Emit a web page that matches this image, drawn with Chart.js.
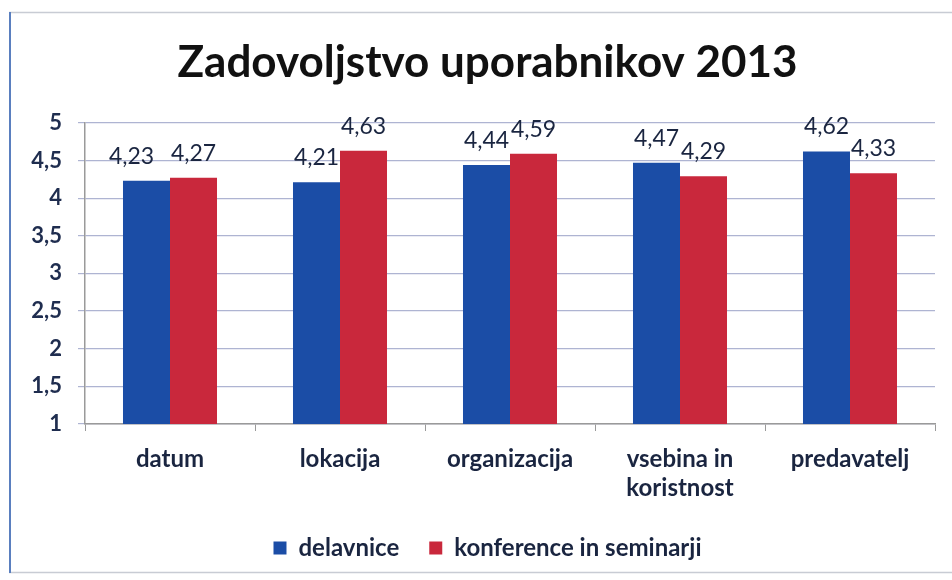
<!DOCTYPE html>
<html>
<head>
<meta charset="utf-8">
<script src="https://cdn.jsdelivr.net/npm/chart.js@4/dist/chart.umd.min.js"></script>
<style>
  html, body { margin: 0; padding: 0; background: #ffffff; }
  #wrap { position: relative; width: 952px; height: 580px; }
</style>
</head>
<body>
<div id="wrap"><canvas id="c" width="952" height="580"></canvas></div>
<script>
const categories = ['datum', 'lokacija', 'organizacija', ['vsebina in', 'koristnost'], 'predavatelj'];
const delavnice = [4.23, 4.21, 4.44, 4.47, 4.62];
const konference = [4.27, 4.63, 4.59, 4.29, 4.33];
const seriesNames = ['delavnice', 'konference in seminarji'];
const titleText = 'Zadovoljstvo uporabnikov 2013';
const yMin = 1, yMax = 5, yStep = 0.5;

const fmt = v => String(v).replace('.', ',');

const frame = {
  id: 'frame',
  beforeDraw(chart) {
    const ctx = chart.ctx;
    ctx.save();
    ctx.strokeStyle = '#c8ccd4';
    ctx.lineWidth = 1.5;
    ctx.beginPath();
    ctx.moveTo(9, 12.5); ctx.lineTo(952, 12.5);
    ctx.moveTo(9, 572.5); ctx.lineTo(952, 572.5);
    ctx.stroke();
    ctx.strokeStyle = '#5a7fbf';
    ctx.lineWidth = 2;
    ctx.beginPath();
    ctx.moveTo(10, 12); ctx.lineTo(10, 573);
    ctx.stroke();
    ctx.restore();
  }
};

// value labels above bars; a label that would collide with its right
// neighbour at nearly the same height is nudged left (as in the original)
const valueLabels = {
  id: 'valueLabels',
  afterDatasetsDraw(chart) {
    const ctx = chart.ctx;
    ctx.save();
    ctx.font = '23px Lato';
    ctx.fillStyle = '#1a2540';
    ctx.textAlign = 'center';
    ctx.textBaseline = 'alphabetic';
    const m0 = chart.getDatasetMeta(0), m1 = chart.getDatasetMeta(1);
    chart.data.labels.forEach((_, i) => {
      const b0 = m0.data[i], b1 = m1.data[i];
      let x0 = b0.x;
      if (Math.abs(b0.y - b1.y) < 8) x0 -= 15;
      ctx.fillText(fmt(chart.data.datasets[0].data[i]), x0, b0.y - 17);
      ctx.fillText(fmt(chart.data.datasets[1].data[i]), b1.x, b1.y - 17);
    });
    ctx.restore();
  }
};

new Chart(document.getElementById('c'), {
  type: 'bar',
  data: {
    labels: categories,
    datasets: [
      { label: seriesNames[0], data: delavnice, backgroundColor: '#1b4da6', borderWidth: 0 },
      { label: seriesNames[1], data: konference, backgroundColor: '#c9283c', borderWidth: 0 }
    ]
  },
  options: {
    responsive: false,
    animation: false,
    devicePixelRatio: 1,
    datasets: { bar: { categoryPercentage: 0.553, barPercentage: 1.0 } },
    layout: { padding: { left: 40, right: 17, top: 0, bottom: 10 } },
    plugins: {
      title: {
        display: true,
        text: titleText,
        color: '#111111',
        font: { family: 'Lato', size: 44, weight: 'bold' },
        padding: { top: 36, bottom: 34 }
      },
      legend: {
        position: 'bottom',
        labels: {
          color: '#1a2540',
          font: { family: 'Lato', size: 24, weight: 'bold' },
          boxWidth: 13,
          boxHeight: 13,
          padding: 30
        }
      },
      tooltip: { enabled: false }
    },
    scales: {
      x: {
        grid: { display: true, drawOnChartArea: false, drawTicks: true, tickLength: 7, color: '#9a9a9a', offset: true },
        border: { display: true, color: '#9a9a9a', width: 1.5 },
        ticks: { color: '#1a2540', font: { family: 'Lato', size: 24, weight: 'bold' }, padding: 14, maxRotation: 0, autoSkip: false },
        afterFit(scale) { scale.height = 82; }
      },
      y: {
        min: yMin, max: yMax,
        grid: { color: '#aeb4d2', lineWidth: 1.2, tickLength: 7 },
        border: { display: true, color: '#9a9a9a', width: 1.5 },
        ticks: {
          stepSize: yStep,
          color: '#1f2d4f',
          font: { family: 'Lato', size: 22, weight: 'bold' },
          padding: 16,
          callback: v => fmt(v)
        },
        afterFit(scale) {
          scale.width = 45;
          scale._computeLabelArea = function () { return undefined; };
        }
      }
    }
  },
  plugins: [frame, valueLabels]
});
</script>
</body>
</html>
